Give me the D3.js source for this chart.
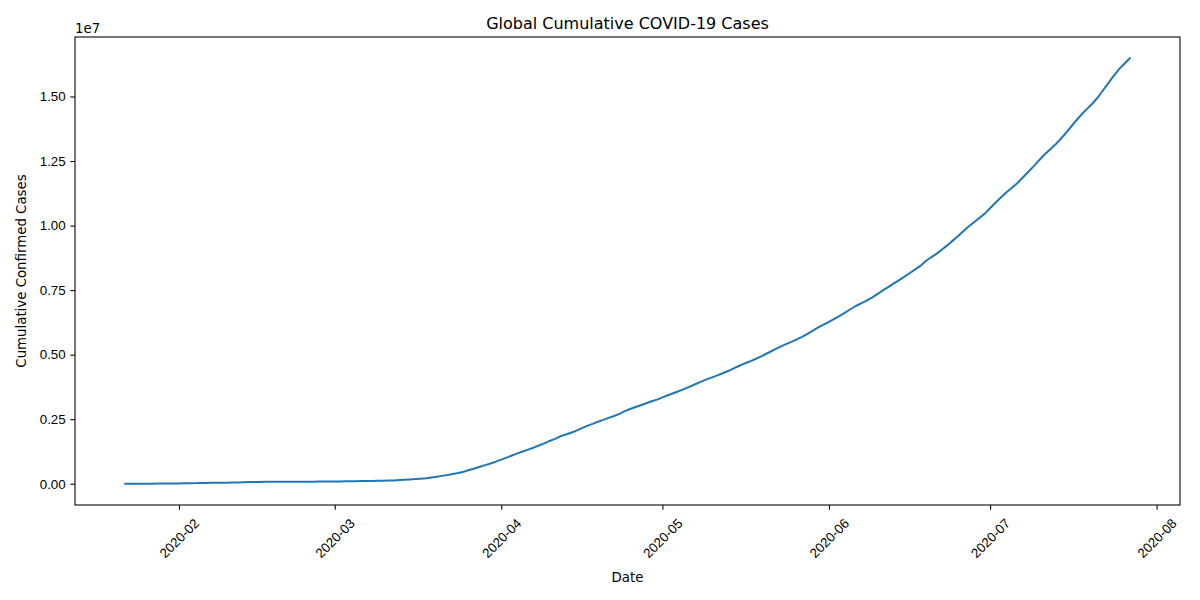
<!DOCTYPE html>
<html>
<head>
<meta charset="utf-8">
<script src="https://cdn.jsdelivr.net/npm/d3@7"></script>
<style>
  body { margin: 0; background: #fff; }
  svg { font-family: "DejaVu Sans", sans-serif; }
</style>
</head>
<body>
<div id="chart"></div>
<script>
// first day of the series, one value per day after it
var startDate = "2020-01-22";

// global cumulative confirmed cases
var cases = [
  555, 654, 941, 1434, 2118, 2927, 5578, 6166, 8234, 9927,
  12038, 16787, 19887, 23898, 27643, 30802, 34395, 37129, 40159, 42762,
  44802, 45221, 60368, 66885, 69030, 71224, 73258, 75136, 75639, 76197,
  76819, 78572, 78958, 79561, 80406, 81388, 82746, 84112, 86011,
  88369, 90306, 92840, 95120, 97886, 101801, 105847, 109821, 113590, 118620,
  125875, 128352, 145205, 156101, 167454, 181574, 197102, 214821, 242570, 272208,
  304507, 336953, 378235, 418045, 467653, 529591, 593291, 660706, 720117, 782365,
  857487,
  932605, 1013157, 1095917, 1176060, 1249754, 1321481, 1396476, 1479804, 1565278, 1657526,
  1735650, 1834721, 1904838, 1976191, 2056054, 2152647, 2240191, 2317758, 2401378, 2472259,
  2549294, 2624068, 2708885, 2811193, 2896746, 2971475, 3041764, 3116398, 3193886, 3256846,
  3343777, 3427584, 3506729, 3583055, 3662691, 3755341, 3845718, 3938064, 4024009, 4101699,
  4177502, 4261747, 4347018, 4442163, 4542347, 4634068, 4713620, 4801943, 4897492, 4996472,
  5102424, 5210817, 5310362, 5407613, 5495061, 5589626, 5691790, 5808946, 5930250, 6057853,
  6166946,
  6265852, 6382944, 6503973, 6629249, 6758793, 6884520, 6986181, 7090840, 7212026, 7347025,
  7482320, 7615925, 7749567, 7878612, 8012017, 8153218, 8294917, 8436995, 8616049, 8771298,
  8904839, 9066007, 9232290, 9407232, 9586863, 9778111, 9965050, 10129620, 10294005, 10461955,
  10669417, 10883941, 11085924, 11278453, 11455893, 11628911, 11841276, 12054007, 12271837, 12503080,
  12721866, 12915065, 13108451, 13325466, 13557883, 13809050, 14061012, 14300826, 14512216, 14720158,
  14952003, 15232149, 15515263, 15800463, 16061044, 16271008, 16480485
];

var yTickValues = [0, 2500000, 5000000, 7500000, 10000000, 12500000, 15000000];

var width = 1200, height = 600;
var margin = { top: 37, right: 20, bottom: 95, left: 75 };

var svg = d3.select("#chart").append("svg")
  .attr("width", width)
  .attr("height", height);

var t0 = d3.utcParse("%Y-%m-%d")(startDate);
var data = cases.map(function (v, i) {
  return { date: d3.utcDay.offset(t0, i), value: v };
});

// matplotlib style 5% padding on both axes
var xExt = d3.extent(data, function (d) { return d.date; });
var xPad = (xExt[1] - xExt[0]) * 0.05;
var x = d3.scaleUtc()
  .domain([new Date(+xExt[0] - xPad), new Date(+xExt[1] + xPad)])
  .range([margin.left, width - margin.right]);

var yExt = d3.extent(data, function (d) { return d.value; });
var yPad = (yExt[1] - yExt[0]) * 0.05;
var y = d3.scaleLinear()
  .domain([yExt[0] - yPad, yExt[1] + yPad])
  .range([height - margin.bottom, margin.top]);

var line = d3.line()
  .x(function (d) { return x(d.date); })
  .y(function (d) { return y(d.value); });

svg.append("path")
  .datum(data)
  .attr("fill", "none")
  .attr("stroke", "#1f77b4")
  .attr("stroke-width", 2)
  .attr("stroke-linejoin", "round")
  .attr("stroke-linecap", "square")
  .attr("d", line);

// x axis
var xAxis = svg.append("g")
  .attr("transform", "translate(0," + (height - margin.bottom) + ")")
  .call(d3.axisBottom(x)
    .ticks(d3.utcMonth.every(1))
    .tickFormat(d3.utcFormat("%Y-%m"))
    .tickSizeInner(4.67)
    .tickSizeOuter(0)
    .tickPadding(4.67));

xAxis.selectAll(".tick text")
  .attr("font-size", 13.33)
  .attr("fill", "#000")
  .attr("text-anchor", "middle")
  .attr("dominant-baseline", "central")
  .attr("dy", null)
  .attr("y", 9.3 + 24)
  .attr("transform", "rotate(-45,0," + (9.3 + 24) + ")");

// y axis
var yAxis = svg.append("g")
  .attr("transform", "translate(" + margin.left + ",0)")
  .call(d3.axisLeft(y)
    .tickValues(yTickValues)
    .tickFormat(function (v) { return (v / 1e7).toFixed(2); })
    .tickSizeInner(4.67)
    .tickSizeOuter(0)
    .tickPadding(4.67));

yAxis.selectAll(".tick text")
  .attr("font-size", 13.33)
  .attr("fill", "#000");

svg.selectAll(".domain").remove();
svg.selectAll(".tick line").attr("stroke", "#000").attr("stroke-width", 1.07);

// frame
svg.append("rect")
  .attr("x", margin.left)
  .attr("y", margin.top)
  .attr("width", width - margin.left - margin.right)
  .attr("height", height - margin.top - margin.bottom)
  .attr("fill", "none")
  .attr("stroke", "#000")
  .attr("stroke-width", 1.07);

// offset text
svg.append("text")
  .attr("x", margin.left)
  .attr("y", margin.top - 4)
  .attr("font-size", 13.33)
  .text("1e7");

svg.append("text")
  .attr("x", (margin.left + width - margin.right) / 2)
  .attr("y", 29)
  .attr("text-anchor", "middle")
  .attr("font-size", 16)
  .text("Global Cumulative COVID-19 Cases");

svg.append("text")
  .attr("x", (margin.left + width - margin.right) / 2)
  .attr("y", 582)
  .attr("text-anchor", "middle")
  .attr("font-size", 13.33)
  .text("Date");

svg.append("text")
  .attr("transform", "translate(26," + ((margin.top + height - margin.bottom) / 2) + ") rotate(-90)")
  .attr("text-anchor", "middle")
  .attr("font-size", 13.33)
  .text("Cumulative Confirmed Cases");
</script>
</body>
</html>
